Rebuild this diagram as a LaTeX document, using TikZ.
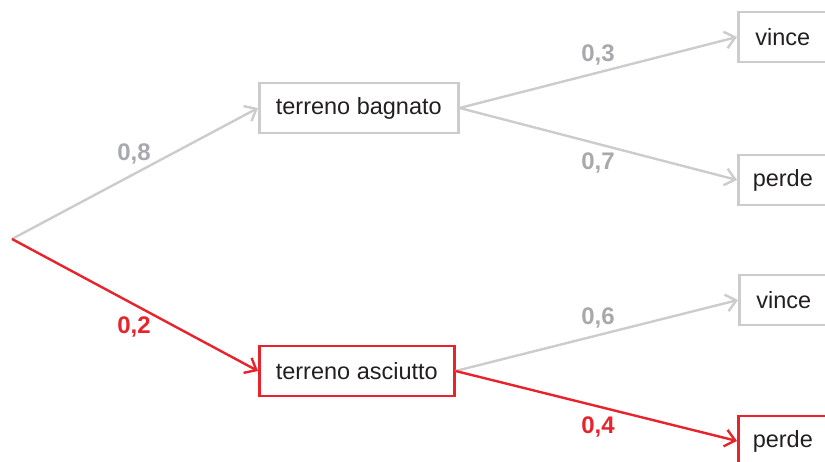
\documentclass[tikz,border=0pt]{standalone}
\usepackage{fontspec}
\setmainfont{Liberation Sans}
\usetikzlibrary{arrows.meta}
\definecolor{lgrey}{HTML}{CCCCCC}
\definecolor{lblgrey}{HTML}{A7A9AC}
\definecolor{tred}{HTML}{E8232B}
\definecolor{txt}{HTML}{231F20}
\begin{document}
\begin{tikzpicture}[x=1pt,y=-1pt,
  box/.style={draw=lgrey,line width=2.6pt,rectangle,minimum height=50pt,inner sep=0pt,anchor=west,text=txt,font=\fontsize{23.5}{28}\selectfont},
  redbox/.style={box,draw=tred},
  edge/.style={draw=lgrey,line width=2.4pt,-{Straight Barb[length=10pt,width=17pt,line width=2.4pt]}},
  rededge/.style={edge,draw=tred},
  lbl/.style={text=lblgrey,font=\bfseries\fontsize{24}{28}\selectfont,inner sep=0pt},
  redlbl/.style={lbl,text=tred}]
\useasboundingbox (0,0) rectangle (825,462);
\coordinate (root) at (12,239);
\node[box,minimum width=199pt] (bag) at (258,108) {terreno bagnato};
\node[redbox,minimum width=195pt] (asc) at (258,371) {terreno asciutto};
\node[box,minimum width=89pt] (v1) at (737,37) {vince};
\node[box,minimum width=89pt] (p1) at (737,180) {perde};
\node[box,minimum width=89pt] (v2) at (738,300) {vince};
\node[redbox,minimum width=89pt] (p2) at (737,441) {perde};
\draw[edge] (root) -- (bag.west);
\draw[edge] (bag.east) -- (v1.west);
\draw[edge] (bag.east) -- (p1.west);
\draw[edge] (asc.east) -- (v2.west);
\draw[rededge] (root) -- (asc.west);
\draw[rededge] (asc.east) -- (p2.west);
\node[lbl] (l08) at (134,154) {0,8};
\node[redlbl] (l02) at (134,327) {0,2};
\node[lbl] (l03) at (598,55) {0,3};
\node[lbl] (l07) at (598,163) {0,7};
\node[lbl] (l06) at (598,318) {0,6};
\node[redlbl] (l04) at (598,427) {0,4};
\end{tikzpicture}
\end{document}
